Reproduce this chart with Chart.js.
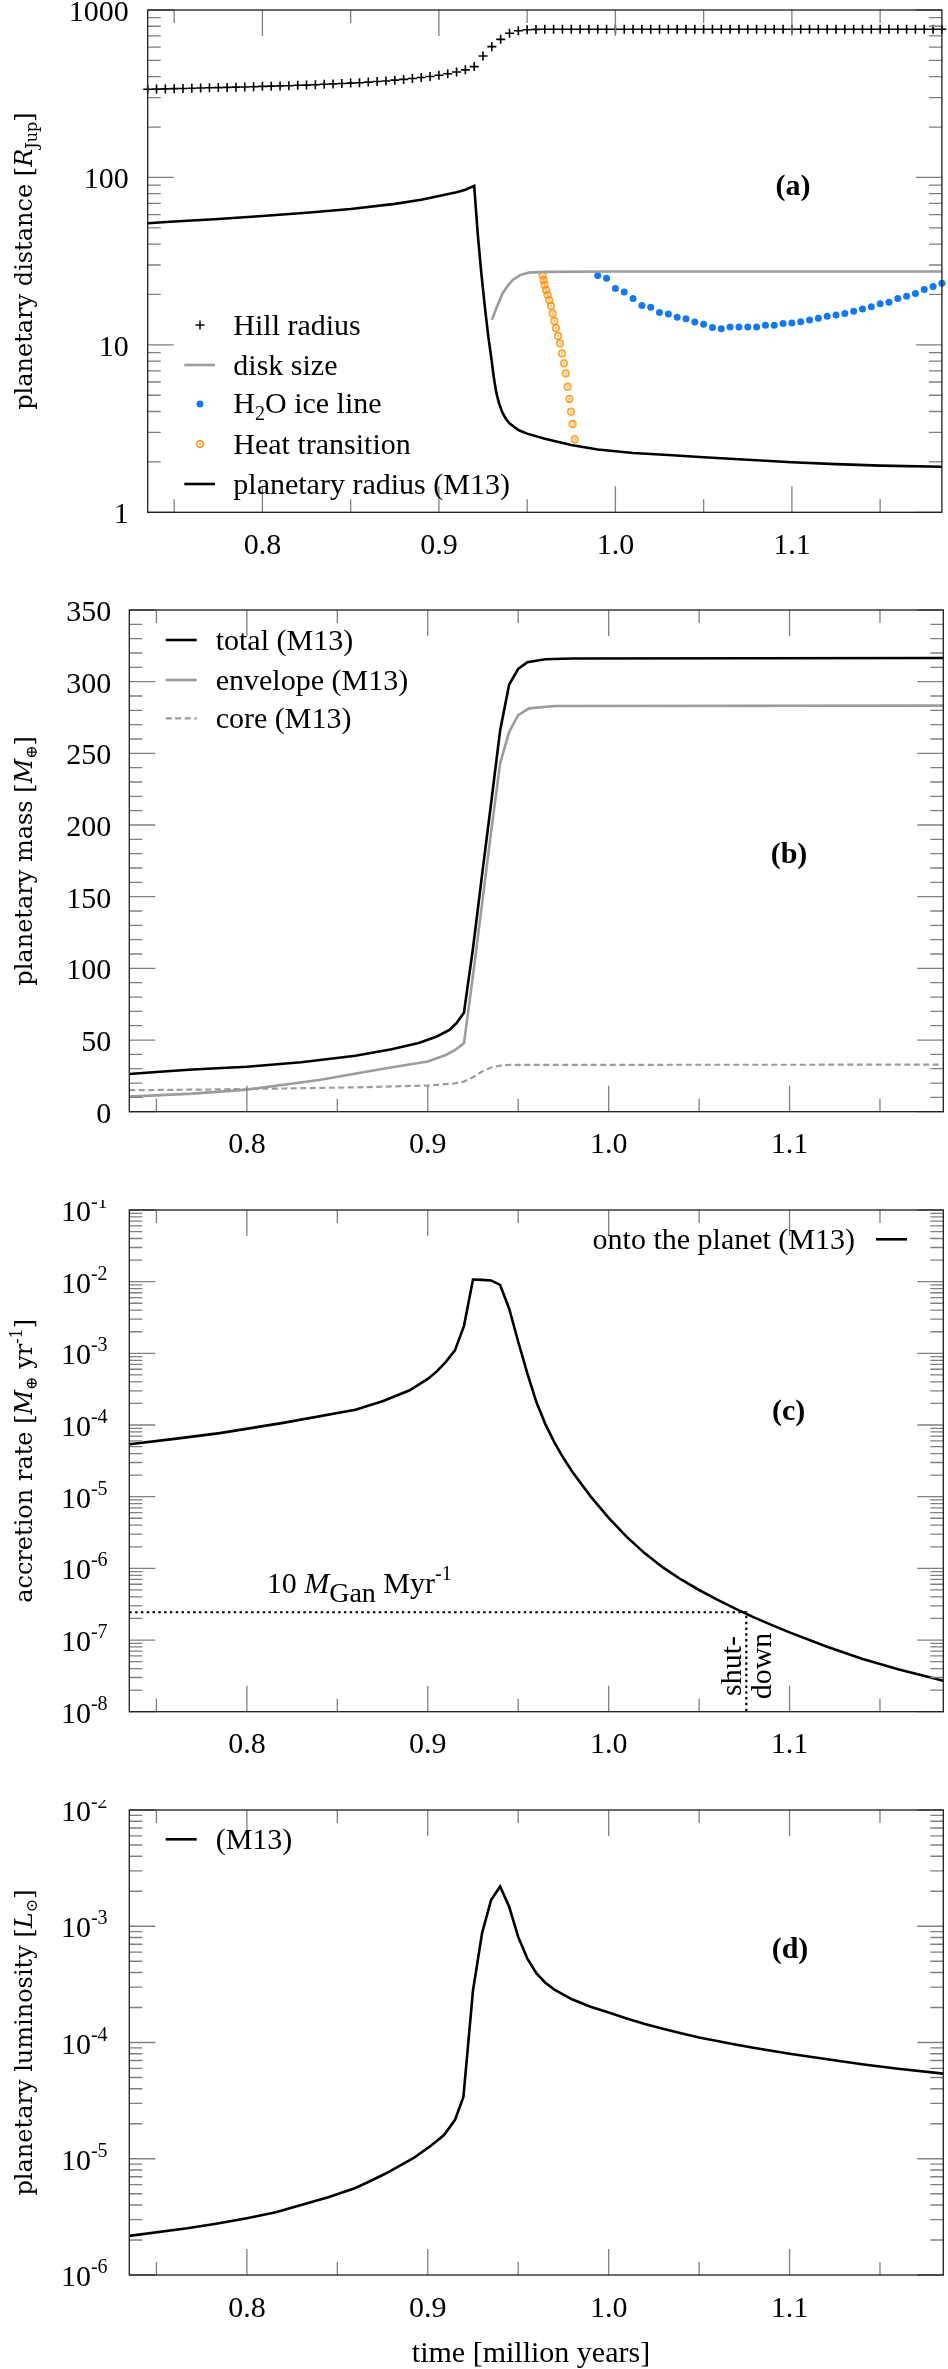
<!DOCTYPE html>
<html>
<head>
<meta charset="utf-8">
<title>Planet growth time series</title>
<script src="https://cdn.jsdelivr.net/npm/chart.js@4.4.1/dist/chart.umd.min.js"></script>
<style>
  html, body { margin: 0; padding: 0; background: #ffffff; }
  #page { position: relative; width: 948px; height: 2369px; overflow: hidden; background: #fff; }
  #page canvas { position: absolute; left: 0; }
</style>
</head>
<body>
<div id="page">
  <canvas id="panelA" width="948" height="600" style="top:0px"></canvas>
  <canvas id="panelB" width="948" height="600" style="top:600px"></canvas>
  <canvas id="panelC" width="948" height="600" style="top:1200px"></canvas>
  <canvas id="panelD" width="948" height="569" style="top:1800px"></canvas>
</div>
<script>
// ---------------- shared axis (time in Myr) ----------------
const xRange = [0.735, 1.185];
const xMajorTicks = [0.8, 0.9, 1.0, 1.1];
const xMinorTicks = [0.75, 0.85, 0.95, 1.05, 1.15];
const xTickLabels = ['0.8', '0.9', '1.0', '1.1'];
const xTitle = 'time [million years]';

// ---------------- panel (a): planetary distance [R_Jup] ----------------
const hillT = [0.735,0.740,0.745,0.750,0.755,0.760,0.765,0.770,0.775,0.780,0.785,0.790,0.795,0.800,0.805,0.810,0.815,0.820,0.825,0.830,0.835,0.840,0.845,0.850,0.855,0.860,0.865,0.870,0.875,0.880,0.885,0.890,0.895,0.900,0.905,0.910,0.915,0.920,0.925,0.930,0.935,0.940,0.945,0.950,0.955,0.960,0.965,0.970,0.975,0.980,0.985,0.990,0.995,1.000,1.005,1.010,1.015,1.020,1.025,1.030,1.035,1.040,1.045,1.050,1.055,1.060,1.065,1.070,1.075,1.080,1.085,1.090,1.095,1.100,1.105,1.110,1.115,1.120,1.125,1.130,1.135,1.140,1.145,1.150,1.155,1.160,1.165,1.170,1.175,1.180,1.185];
const hillR = [336,337,338,339,340,341,342,343,344,345,346,347,348,350,351,352,353,355,356,358,360,362,364,366,368,371,374,377,381,385,390,395,401,408,416,426,439,459,531,604,668,726,752,762,766,767,767,767,767,767,767,767,767,767,767,767,767,767,767,767,767,767,767,767,767,767,767,767,767,767,767,767,767,767,767,767,767,767,767,767,767,767,767,767,767,767,767,767,767,767,767];
const diskT = [0.930,0.933,0.936,0.939,0.942,0.946,0.951,0.960,1.000,1.185];
const diskR = [14.1,17.0,20.3,22.5,24.5,26.1,27.0,27.3,27.4,27.4];
const iceT = [0.990,0.995,1.000,1.005,1.010,1.015,1.020,1.025,1.030,1.035,1.040,1.045,1.050,1.055,1.060,1.065,1.070,1.075,1.080,1.085,1.090,1.095,1.100,1.105,1.110,1.115,1.120,1.125,1.130,1.135,1.140,1.145,1.150,1.155,1.160,1.165,1.170,1.175,1.180,1.185];
const iceR = [26.0,25.0,21.7,20.7,18.9,17.2,16.8,15.6,15.3,14.6,14.3,13.7,13.3,12.7,12.5,12.8,12.8,12.8,12.8,13.1,13.1,13.4,13.5,13.75,14.1,14.4,14.8,15.1,15.4,15.9,16.4,16.9,17.6,18.0,18.9,19.5,20.3,21.4,22.3,23.3];
const heatT = [0.9588,0.9593,0.9599,0.9607,0.9616,0.9625,0.9635,0.9644,0.9654,0.9663,0.9675,0.9686,0.9697,0.9709,0.9718,0.9729,0.9739,0.9748,0.9757,0.9769];
const heatR = [26.0,24.4,22.8,21.3,19.9,18.5,17.1,15.4,13.9,12.6,11.3,10.2,8.9,7.76,6.76,5.63,4.75,3.99,3.37,2.73];
const radT = [0.735,0.75,0.775,0.80,0.825,0.85,0.875,0.89,0.90,0.91,0.915,0.92,0.922,0.924,0.926,0.928,0.930,0.931,0.9325,0.934,0.936,0.938,0.940,0.945,0.950,0.960,0.975,0.990,1.010,1.03,1.05,1.075,1.10,1.125,1.15,1.185];
const radR = [53.3,54.5,56.5,58.9,61.5,64.8,69.5,73.5,77.5,81.5,84.5,89,46,27,17,11.2,7.9,6.5,5.2,4.5,3.94,3.61,3.40,3.1,2.95,2.75,2.52,2.37,2.26,2.20,2.13,2.06,1.99,1.94,1.90,1.87];
const yTicksA = [1, 10, 100, 1000];
const yLabelsA = ['1', '10', '100', '1000'];
const legendA = ['Hill radius', 'disk size', 'H2O ice line', 'Heat transition', 'planetary radius (M13)'];

// ---------------- panel (b): planetary mass [M_earth] ----------------
const massT = [0.735,0.75,0.77,0.80,0.83,0.86,0.88,0.895,0.905,0.912,0.916,0.920,0.925,0.930,0.935,0.940,0.945,0.950,0.955,0.965,0.98,1.185];
const massTotal = [26.3,27.7,29.4,31.4,34.5,39.0,43.5,48.0,52.5,57.0,62.0,69.0,114,165,215,266,298,309,313.5,315.6,316.2,316.5];
const envT = [0.735,0.77,0.80,0.84,0.877,0.90,0.91,0.915,0.920,0.925,0.930,0.935,0.940,0.945,0.950,0.956,0.970,1.185];
const envMass = [10.5,12.6,15.4,22.1,30.3,35.0,39.6,43.0,47.7,95,145,195,243,265,276.7,281.4,283,283.3];
const coreT = [0.735,0.78,0.82,0.86,0.90,0.915,0.920,0.925,0.930,0.935,0.940,0.945,1.185];
const coreMass = [15.0,15.5,16.2,17.0,18.3,19.8,21.0,24.0,28.0,30.8,32.2,32.7,32.8];
const yTicksB = [0, 50, 100, 150, 200, 250, 300, 350];
const yLabelsB = ['0', '50', '100', '150', '200', '250', '300', '350'];
const legendB = ['total (M13)', 'envelope (M13)', 'core (M13)'];

// ---------------- panel (c): accretion rate [M_earth / yr] ----------------
const accT = [0.735,0.76,0.785,0.82,0.86,0.875,0.89,0.90,0.905,0.91,0.915,0.92,0.925,0.93,0.935,0.94,0.945,0.95,0.955,0.96,0.965,0.97,0.975,0.98,0.99,1.00,1.01,1.02,1.03,1.04,1.05,1.06,1.07,1.08,1.09,1.10,1.12,1.14,1.16,1.185];
const accRate = [5.4e-5,6.4e-5,7.7e-5,1.07e-4,1.63e-4,2.15e-4,3.05e-4,4.4e-4,5.6e-4,7.6e-4,1.1e-3,2.4e-3,1.07e-2,1.06e-2,1.04e-2,9.0e-3,4.2e-3,1.45e-3,5.3e-4,2.11e-4,1.03e-4,5.74e-5,3.46e-5,2.21e-5,1.01e-5,5.06e-6,2.75e-6,1.62e-6,1.03e-6,7.0e-7,4.99e-7,3.66e-7,2.74e-7,2.09e-7,1.63e-7,1.28e-7,8.2e-8,5.5e-8,3.9e-8,2.7e-8];
const shutT = [0.735, 1.0761, 1.0761];
const shutRate = [2.44e-7, 2.44e-7, 1e-8];
const yTicksC = [1e-8, 1e-7, 1e-6, 1e-5, 1e-4, 1e-3, 1e-2, 1e-1];
const yExpC = ['-8', '-7', '-6', '-5', '-4', '-3', '-2', '-1'];
const legendC = ['onto the planet (M13)'];

// ---------------- panel (d): planetary luminosity [L_sun] ----------------
const lumT = [0.735,0.767,0.783,0.80,0.816,0.83,0.845,0.86,0.868,0.877,0.892,0.901,0.909,0.915,0.9197,0.925,0.930,0.935,0.940,0.945,0.950,0.955,0.960,0.965,0.970,0.980,0.990,1.000,1.01,1.02,1.03,1.04,1.05,1.06,1.07,1.08,1.09,1.10,1.12,1.14,1.16,1.185];
const lumL = [2.17e-6,2.52e-6,2.76e-6,3.08e-6,3.46e-6,4.0e-6,4.66e-6,5.6e-6,6.4e-6,7.5e-6,1.01e-5,1.27e-5,1.6e-5,2.15e-5,3.4e-5,2.8e-4,8.7e-4,1.68e-3,2.2e-3,1.47e-3,8.1e-4,5.3e-4,3.95e-4,3.27e-4,2.85e-4,2.34e-4,2.03e-4,1.81e-4,1.61e-4,1.44e-4,1.31e-4,1.20e-4,1.105e-4,1.03e-4,9.6e-5,9.0e-5,8.5e-5,8.0e-5,7.2e-5,6.5e-5,5.95e-5,5.4e-5];
const yTicksD = [1e-6, 1e-5, 1e-4, 1e-3, 1e-2];
const yExpD = ['-6', '-5', '-4', '-3', '-2'];
const legendD = ['(M13)'];

// ---------------- styles ----------------
const BLACK = '#000000', GREY = '#9c9c9c', BLUE = '#1478f2', ORANGE = '#ff8c00';
const TICK_COLOR = '#808080', FRAME_COLOR = '#1e1e1e';
const SERIF = '"Liberation Serif", "Times New Roman", serif';
const WIDE = '"DejaVu Serif", serif';
const F30 = '30px ' + SERIF, F30I = 'italic 30px ' + SERIF, F30B = 'bold 30px ' + SERIF;
const F28 = '28px ' + SERIF, F20 = '20px ' + SERIF;
const T24 = '24px ' + WIDE, T24I = 'italic 24px ' + WIDE, T16 = '16px ' + WIDE;

function runsWidth(ctx, runs) {
  let w = 0;
  runs.forEach(r => { ctx.font = r.f; w += ctx.measureText(r.t).width; });
  return w;
}
function drawRich(ctx, runs, x, y, align) {
  const w = runsWidth(ctx, runs);
  let cx = align === 'center' ? x - w / 2 : (align === 'right' ? x - w : x);
  ctx.textAlign = 'left';
  ctx.textBaseline = 'alphabetic';
  runs.forEach(r => {
    ctx.font = r.f;
    ctx.fillText(r.t, cx, y + (r.dy || 0));
    cx += ctx.measureText(r.t).width;
  });
}
// rotated (reading bottom-to-top) rich text centred on (bx, cy); widths measured before rotating
function drawRotRich(ctx, runs, bx, cy) {
  const widths = runs.map(r => { ctx.font = r.f; return ctx.measureText(r.t).width; });
  const total = widths.reduce((s, v) => s + v, 0);
  ctx.save();
  ctx.translate(bx, cy);
  ctx.rotate(-Math.PI / 2);
  ctx.textAlign = 'left';
  ctx.textBaseline = 'alphabetic';
  let cx = -total / 2;
  runs.forEach((r, i) => { ctx.font = r.f; ctx.fillText(r.t, cx, r.dy || 0); cx += widths[i]; });
  ctx.restore();
}
function logMinor(lo, hi) {
  const out = [];
  for (let e = lo; e < hi; e++) for (let k = 2; k <= 9; k++) out.push(k * Math.pow(10, e));
  return out;
}
function linMinor(lo, hi, step, skip) {
  const out = [];
  for (let v = lo; v <= hi; v += step) if (v % skip !== 0) out.push(v);
  return out;
}
function legendLine(ctx, x1, x2, y, color, width, dash) {
  ctx.save();
  ctx.strokeStyle = color; ctx.lineWidth = width; ctx.setLineDash(dash || []);
  ctx.beginPath(); ctx.moveTo(x1, y); ctx.lineTo(x2, y); ctx.stroke();
  ctx.restore();
}

const HEAT_IMG = (function () {
  const c = document.createElement('canvas'); c.width = 10; c.height = 10;
  const g = c.getContext('2d');
  g.strokeStyle = ORANGE; g.lineWidth = 1.4;
  g.beginPath(); g.arc(5, 5, 3.2, 0, 2 * Math.PI); g.stroke();
  g.fillStyle = ORANGE; g.beginPath(); g.arc(5, 5, 0.9, 0, 2 * Math.PI); g.fill();
  return c;
})();

const pts = (xs, ys) => xs.map((x, i) => ({ x: x, y: ys[i] }));
function lineDS(xs, ys, color, width, dash) {
  return { data: pts(xs, ys), showLine: true, borderColor: color, backgroundColor: color,
           borderWidth: width, borderDash: dash || [], pointRadius: 0, fill: false, tension: 0 };
}

// ---------------- decoration plugin (frame, ticks, labels, legends) ----------------
const DECO = {};
const decoPlugin = {
  id: 'decoPanels',
  afterDraw(chart) {
    const d = DECO[chart.canvas.id];
    if (!d) return;
    const ctx = chart.ctx, a = chart.chartArea, xs = chart.scales.x, ys = chart.scales.y;
    ctx.save();
    // tick marks (inside, mirrored on all four sides)
    ctx.strokeStyle = TICK_COLOR; ctx.lineWidth = 1.3;
    ctx.beginPath();
    const vt = (v, len) => { const p = xs.getPixelForValue(v);
      ctx.moveTo(p, a.bottom); ctx.lineTo(p, a.bottom - len); ctx.moveTo(p, a.top); ctx.lineTo(p, a.top + len); };
    const ht = (v, len) => { const p = ys.getPixelForValue(v);
      ctx.moveTo(a.left, p); ctx.lineTo(a.left + len, p); ctx.moveTo(a.right, p); ctx.lineTo(a.right - len, p); };
    xMajorTicks.forEach(v => vt(v, 26));
    xMinorTicks.forEach(v => vt(v, 13));
    d.yMajor.forEach(v => ht(v, 26));
    d.yMinor.forEach(v => ht(v, 13));
    ctx.stroke();
    // frame
    ctx.strokeStyle = FRAME_COLOR; ctx.lineWidth = 1.3;
    ctx.strokeRect(a.left, a.top, a.right - a.left, a.bottom - a.top);
    // x tick labels
    ctx.fillStyle = BLACK;
    xMajorTicks.forEach((v, i) => drawRich(ctx, [{ t: xTickLabels[i], f: F30 }], xs.getPixelForValue(v), a.bottom + 41.5, 'center'));
    // y tick labels
    d.yMajor.forEach((v, i) => drawRich(ctx, d.yLabel(i), a.left - d.yGap, ys.getPixelForValue(v) + 11, 'right'));
    // y title (rotated)
    drawRotRich(ctx, d.title, 31.5, (a.top + a.bottom) / 2);
    // panel label
    drawRich(ctx, [{ t: d.panel, f: F30B }], d.panelX, d.panelY, 'center');
    if (d.extra) d.extra(ctx, chart);
    ctx.restore();
  }
};

function makeChart(id, datasets, yScale, pad) {
  return new Chart(document.getElementById(id), {
    type: 'scatter',
    data: { datasets: datasets },
    options: {
      responsive: false, maintainAspectRatio: false, animation: false, devicePixelRatio: 1, events: [],
      layout: { padding: pad },
      plugins: { legend: { display: false }, tooltip: { enabled: false } },
      scales: {
        x: { type: 'linear', min: xRange[0], max: xRange[1], display: false },
        y: Object.assign({ display: false }, yScale)
      }
    },
    plugins: [decoPlugin]
  });
}

// ---------------- panel (a) ----------------
DECO.panelA = {
  yMajor: yTicksA, yMinor: logMinor(0, 3), yGap: 19,
  yLabel: i => [{ t: yLabelsA[i], f: F30 }],
  title: [{ t: 'planetary distance [', f: T24 }, { t: 'R', f: T24I }, { t: 'Jup', f: T16, dy: 5 }, { t: ']', f: T24 }],
  panel: '(a)', panelX: 793, panelY: 194.5,
  extra(ctx) {
    ctx.strokeStyle = BLACK; ctx.lineWidth = 1.5;
    ctx.beginPath(); ctx.moveTo(195.5, 325); ctx.lineTo(204.5, 325); ctx.moveTo(200, 320.5); ctx.lineTo(200, 329.5); ctx.stroke();
    legendLine(ctx, 184.3, 215, 365, GREY, 2.6);
    ctx.fillStyle = BLUE; ctx.beginPath(); ctx.arc(200, 404, 3.5, 0, 2 * Math.PI); ctx.fill();
    ctx.drawImage(HEAT_IMG, 195, 439);
    legendLine(ctx, 184.3, 215, 484, BLACK, 2.6);
    ctx.fillStyle = BLACK;
    drawRich(ctx, [{ t: legendA[0], f: F30 }], 233.3, 335, 'left');
    drawRich(ctx, [{ t: legendA[1], f: F30 }], 233.3, 375, 'left');
    drawRich(ctx, [{ t: 'H', f: F30 }, { t: '2', f: F20, dy: 7 }, { t: 'O ice line', f: F30 }], 233.3, 413, 'left');
    drawRich(ctx, [{ t: legendA[3], f: F30 }], 233.3, 454, 'left');
    drawRich(ctx, [{ t: legendA[4], f: F30 }], 233.3, 494, 'left');
  }
};
makeChart('panelA', [
  { data: pts(hillT, hillR), showLine: false, pointStyle: 'cross', pointRadius: 4.5, pointBorderWidth: 1.6,
    borderColor: BLACK, backgroundColor: BLACK, clip: false },
  lineDS(diskT, diskR, GREY, 2.6),
  { data: pts(iceT, iceR), showLine: false, pointStyle: 'circle', pointRadius: 3.5, pointBorderWidth: 0,
    borderColor: BLUE, backgroundColor: BLUE, clip: false },
  { data: pts(heatT, heatR), showLine: false, pointStyle: HEAT_IMG, pointRadius: 4,
    borderColor: ORANGE, backgroundColor: ORANGE, clip: false },
  lineDS(radT, radR, BLACK, 2.6)
], { type: 'logarithmic', min: 1, max: 1000 }, { left: 147.7, right: 4.7, top: 10, bottom: 87.7 });

// ---------------- panel (b) ----------------
DECO.panelB = {
  yMajor: yTicksB, yMinor: linMinor(10, 340, 10, 50), yGap: 18,
  yLabel: i => [{ t: yLabelsB[i], f: F30 }],
  title: [{ t: 'planetary mass [', f: T24 }, { t: 'M', f: T24I }, { t: '\u2295', f: T16, dy: 5 }, { t: ']', f: T24 }],
  panel: '(b)', panelX: 789, panelY: 262.5,
  extra(ctx) {
    legendLine(ctx, 165.7, 196.7, 40, BLACK, 2.6);
    legendLine(ctx, 165.7, 196.7, 80, GREY, 2.6);
    legendLine(ctx, 165.7, 196.7, 118.3, GREY, 2.2, [6, 3.5]);
    ctx.fillStyle = BLACK;
    drawRich(ctx, [{ t: legendB[0], f: F30 }], 215.7, 50, 'left');
    drawRich(ctx, [{ t: legendB[1], f: F30 }], 215.7, 90, 'left');
    drawRich(ctx, [{ t: legendB[2], f: F30 }], 215.7, 128.3, 'left');
  }
};
makeChart('panelB', [
  lineDS(coreT, coreMass, GREY, 2.2, [6, 3.5]),
  lineDS(envT, envMass, GREY, 2.6),
  lineDS(massT, massTotal, BLACK, 2.6)
], { type: 'linear', min: 0, max: 350 }, { left: 129.3, right: 4.7, top: 10, bottom: 88.3 });

// ---------------- panel (c) ----------------
DECO.panelC = {
  yMajor: yTicksC, yMinor: logMinor(-8, -1), yGap: 21.7,
  yLabel: i => [{ t: '10', f: F30 }, { t: yExpC[i], f: F20, dy: -13 }],
  title: [{ t: 'accretion rate [', f: T24 }, { t: 'M', f: T24I }, { t: '\u2295', f: T16, dy: 5 },
          { t: ' yr', f: T24 }, { t: '-1', f: T16, dy: -10 }, { t: ']', f: T24 }],
  panel: '(c)', panelX: 788.7, panelY: 219.5,
  extra(ctx) {
    ctx.fillStyle = BLACK;
    drawRich(ctx, [{ t: legendC[0], f: F30 }], 855, 49.3, 'right');
    legendLine(ctx, 876, 907, 39.3, BLACK, 2.6);
    drawRich(ctx, [{ t: '10 ', f: F30 }, { t: 'M', f: F30I }, { t: 'Gan', f: F28, dy: 9 },
                   { t: ' Myr', f: F30 }, { t: '-1', f: F20, dy: -13 }], 266.7, 393.3, 'left');
    ctx.font = F30; ctx.textAlign = 'center'; ctx.textBaseline = 'alphabetic';
    ctx.save(); ctx.translate(740.5, 466); ctx.rotate(-Math.PI / 2); ctx.fillText('shut-', 0, 0); ctx.restore();
    ctx.save(); ctx.translate(771, 466); ctx.rotate(-Math.PI / 2); ctx.fillText('down', 0, 0); ctx.restore();
  }
};
makeChart('panelC', [
  lineDS(shutT, shutRate, BLACK, 2.2, [2.5, 3.3]),
  lineDS(accT, accRate, BLACK, 2.6)
], { type: 'logarithmic', min: 1e-8, max: 1e-1 }, { left: 129.3, right: 4.7, top: 10, bottom: 88.3 });

// ---------------- panel (d) ----------------
DECO.panelD = {
  yMajor: yTicksD, yMinor: logMinor(-6, -2), yGap: 21.7,
  yLabel: i => [{ t: '10', f: F30 }, { t: yExpD[i], f: F20, dy: -13 }],
  title: [{ t: 'planetary luminosity [', f: T24 }, { t: 'L', f: T24I }, { t: '\u2299', f: T16, dy: 5 }, { t: ']', f: T24 }],
  panel: '(d)', panelX: 790, panelY: 158.4,
  extra(ctx) {
    legendLine(ctx, 165.7, 196.7, 39.3, BLACK, 2.6);
    ctx.fillStyle = BLACK;
    drawRich(ctx, [{ t: legendD[0], f: F30 }], 215.7, 49.3, 'left');
    drawRich(ctx, [{ t: xTitle, f: F30 }], 531, 562, 'center');
  }
};
makeChart('panelD', [
  lineDS(lumT, lumL, BLACK, 2.6)
], { type: 'logarithmic', min: 1e-6, max: 1e-2 }, { left: 129.3, right: 4.7, top: 10, bottom: 94 });
</script>
</body>
</html>
